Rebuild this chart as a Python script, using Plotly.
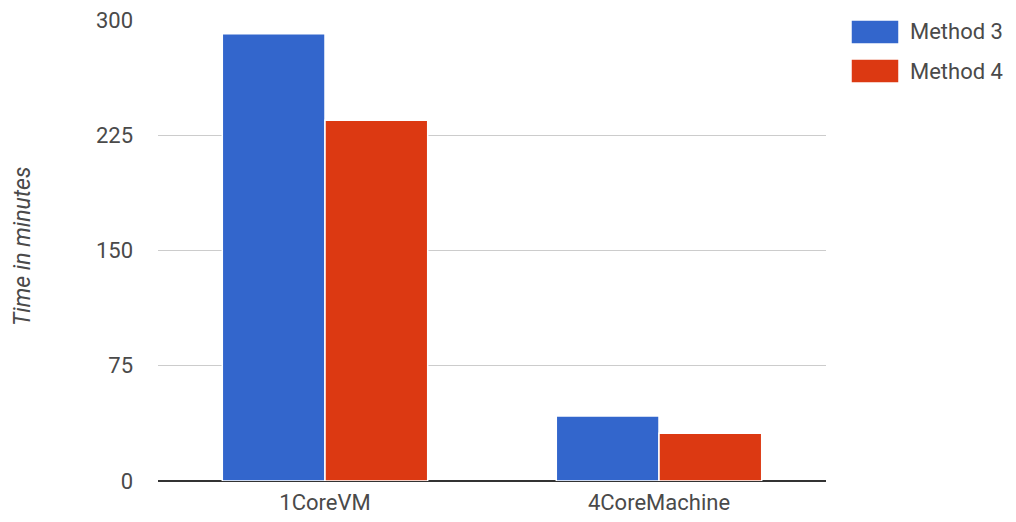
import plotly.graph_objects as go

categories = ["1CoreVM", "4CoreMachine"]
method3 = [291, 42.3]
method4 = [234.8, 31.1]
series_names = ["Method 3", "Method 4"]
colors = ["#3366CC", "#DC3912"]
y_ticks = [0, 75, 150, 225, 300]

FONT = "Roboto, Arial, sans-serif"
TXT = "#4a4a4a"

fig = go.Figure()
for name, vals, col in zip(series_names, [method3, method4], colors):
    fig.add_trace(go.Bar(
        x=categories, y=vals, name=name,
        marker=dict(color=col, line=dict(color="white", width=1.5)),
        showlegend=False,
    ))

W, H = 1016, 522
L, R, T, B = 158, 190, 20, 41
pw = W - L - R
ph = H - T - B

def px_to_paper_x(px):
    return (px - L) / pw

def px_to_paper_y(py):
    return (H - B - py) / ph

# custom legend
for i, (name, col) in enumerate(zip(series_names, colors)):
    y0 = 20 + i * 39
    fig.add_shape(type="rect", xref="paper", yref="paper",
                  x0=px_to_paper_x(851), x1=px_to_paper_x(899),
                  y0=px_to_paper_y(y0 + 24), y1=px_to_paper_y(y0),
                  fillcolor=col, line=dict(color="white", width=1.5))
    fig.add_annotation(xref="paper", yref="paper",
                       x=px_to_paper_x(908), y=px_to_paper_y(y0 + 12),
                       xanchor="left", yanchor="middle", showarrow=False,
                       text=name, font=dict(family=FONT, size=22, color=TXT))

fig.add_annotation(xref="paper", yref="paper",
                   x=px_to_paper_x(22), y=px_to_paper_y(247),
                   xanchor="center", yanchor="middle", showarrow=False,
                   textangle=-90, text="<i>Time in minutes</i>",
                   font=dict(family=FONT, size=23, color=TXT))

fig.update_layout(
    width=W, height=H,
    margin=dict(l=L, r=R, t=T, b=B, autoexpand=False),
    paper_bgcolor="white", plot_bgcolor="white",
    barmode="group", bargap=0.385, bargroupgap=0,
    font=dict(family=FONT, size=22, color=TXT),
    xaxis=dict(showgrid=False, showline=False, ticks="", ticklabelstandoff=6,
               tickfont=dict(family=FONT, size=22, color=TXT)),
    yaxis=dict(range=[0, 300], tickvals=y_ticks, showgrid=True,
               gridcolor="#CCCCCC", gridwidth=1, zeroline=True,
               zerolinecolor="#333333", zerolinewidth=1.5, showline=False,
               ticks="", ticklabelstandoff=24,
               tickfont=dict(family=FONT, size=22, color=TXT)),
)

fig.write_html("out.html")
